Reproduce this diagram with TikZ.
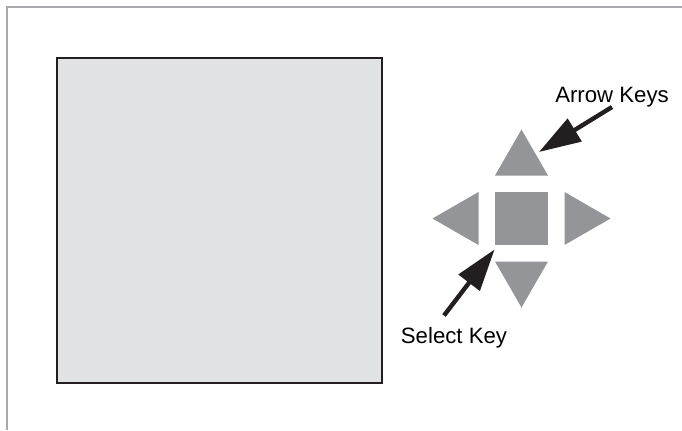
\documentclass[tikz,border=0pt]{standalone}
\usepackage{fontspec}
\setmainfont{Liberation Sans}
\usetikzlibrary{arrows.meta}

\definecolor{framegray}{HTML}{A7A9AC}
\definecolor{screengray}{HTML}{E1E2E3}
\definecolor{keygray}{HTML}{939598}
\definecolor{edgeblack}{HTML}{231F20}

\tikzset{
  lbl/.style={inner sep=0pt, font=\fontsize{11.1}{13}\selectfont},
  callout/.style={line width=2.2pt, edgeblack, -{Triangle[length=21pt,width=13pt]}},
  keyfill/.style={fill=keygray, draw=none},
}

\begin{document}
\begin{tikzpicture}[x=0.5pt, y=-0.5pt]
    \useasboundingbox (0,0) rectangle (682,430);

    % Rahmen oben und links
    \draw[framegray, line width=1pt] (7,430) -- (7,7) -- (682,7);

    % Bildschirm
    \draw[edgeblack, fill=screengray, line width=0.9pt] (57,58) rectangle (382,383);

    % Auswahltaste in der Mitte
    \node[keyfill, minimum size=26.5pt, inner sep=0pt] (selkey) at (521.5,218.5) {};

    % Pfeiltasten rundherum
    \foreach \a in {0, 90, 180, 270} {
        \fill[keygray, shift={(521.5,218.5)}, rotate=\a]
            (43,-26.5) -- (89,0) -- (43,26.5) -- cycle;
    }

    % Beschriftungen
    \node[lbl, anchor=base] (arrowlbl) at (612,102) {Arrow Keys};
    \node[lbl, anchor=base] (sellbl) at (454,343) {Select Key};

    \coordinate (uptip) at (539,152);
    \coordinate (seltip) at ([yshift=-2pt]selkey.south west);

    % Hinweispfeile
    \draw[callout] (arrowlbl.south) -- (uptip);
    \draw[callout] ([shift={(-10,-11)}]sellbl.north) -- (seltip);
\end{tikzpicture}
\end{document}
